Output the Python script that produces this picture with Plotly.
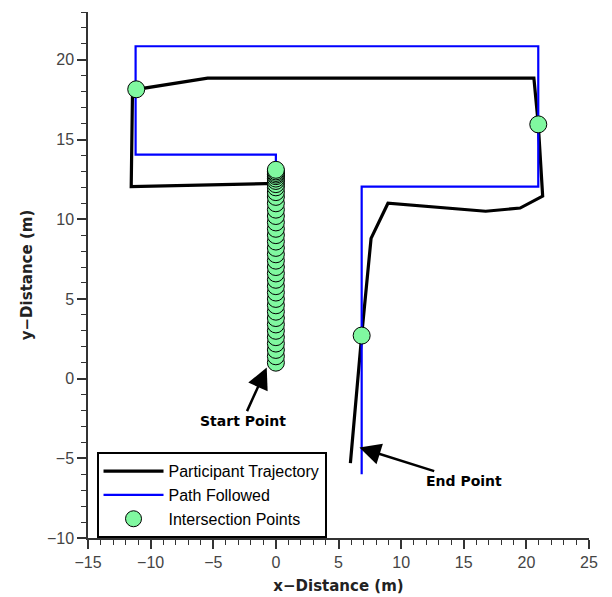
import plotly.graph_objects as go

# Participant trajectory (black)
traj_x = [0.0, 0.0, -11.55, -11.45, -11.1, -5.45, 20.6, 20.95, 21.3, 19.5, 16.75, 8.95, 7.6, 6.85, 5.95]
traj_y = [1.0, 12.25, 12.05, 17.8, 18.15, 18.85, 18.85, 15.95, 11.45, 10.7, 10.5, 11.0, 8.8, 2.7, -5.3]

# Path followed (blue)
path_x = [0.0, 0.0, -11.2, -11.2, 20.95, 20.95, 6.85, 6.85]
path_y = [13.0, 14.05, 14.05, 20.85, 20.85, 12.05, 12.05, -6.0]

# Intersection points (green)
inter_x = [0.0] * 37 + [-11.15, 20.95, 6.85]
inter_y = [1.0, 1.4, 1.8, 2.2, 2.6, 3.0, 3.4, 3.8, 4.2, 4.6, 5.0, 5.4, 5.8, 6.2,
           6.6, 7.0, 7.4, 7.8, 8.2, 8.6, 9.0, 9.4, 9.8, 10.2, 10.6, 11.0, 11.4,
           11.7, 12.0, 12.2, 12.4, 12.55, 12.7, 12.8, 12.9, 13.0, 13.1,
           18.15, 15.95, 2.7]

# Annotations
ann_text = ["Start Point", "End Point"]
ann_x = [-0.73, 6.67]
ann_y = [0.69, -4.33]
ann_ax = [-24, 105]
ann_ay = [53, 33]

fig = go.Figure()
fig.add_trace(go.Scatter(x=traj_x, y=traj_y, mode="lines", name="Participant Trajectory",
                         line=dict(color="black", width=3.2)))
fig.add_trace(go.Scatter(x=path_x, y=path_y, mode="lines", name="Path Followed",
                         line=dict(color="#0000ff", width=2.2)))
fig.add_trace(go.Scatter(x=inter_x, y=inter_y, mode="markers", name="Intersection Points",
                         marker=dict(size=17, color="#80f8a0", line=dict(color="black", width=1))))

for t, x, y, ax, ay in zip(ann_text, ann_x, ann_y, ann_ax, ann_ay):
    fig.add_annotation(x=x, y=y, ax=ax, ay=ay, text="<b>%s</b>" % t, showarrow=True,
                       arrowhead=2, arrowsize=1.7, arrowwidth=2.5, arrowcolor="black",
                       font=dict(family="DejaVu Sans", size=14, color="black"))

axis_common = dict(
    showgrid=False, zeroline=False, showline=True, linecolor="#333333", linewidth=1.5,
    ticks="outside", ticklen=9, tickwidth=1.5, tickcolor="#333333",
    tickfont=dict(family="Liberation Sans", size=16, color="#444444"),
    minor=dict(dtick=1, ticks="outside", ticklen=5, tickwidth=1.2, tickcolor="#333333"),
    automargin=False,
)

fig.update_xaxes(range=[-15, 25], dtick=5, tick0=0,
                 title=dict(text="<b>x−Distance (m)</b>", standoff=11,
                            font=dict(family="DejaVu Sans", size=15, color="#222222")),
                 **axis_common)
fig.update_yaxes(range=[-10, 23], dtick=5, tick0=0,
                 title=dict(text="<b>y−Distance (m)</b>", standoff=11,
                            font=dict(family="DejaVu Sans", size=15, color="#222222")),
                 **axis_common)

fig.update_layout(
    width=612, height=597,
    margin=dict(l=88, r=23, t=12, b=59),
    plot_bgcolor="white", paper_bgcolor="white",
    showlegend=True,
    legend=dict(x=0.017, y=0.163, xanchor="left", yanchor="top",
                bgcolor="white", bordercolor="black", borderwidth=2,
                font=dict(family="Liberation Sans", size=16, color="black"),
                tracegroupgap=0, itemwidth=60),
)

fig.write_html("out.html", config={"displayModeBar": False},
               post_script="document.body.style.margin='0';")
